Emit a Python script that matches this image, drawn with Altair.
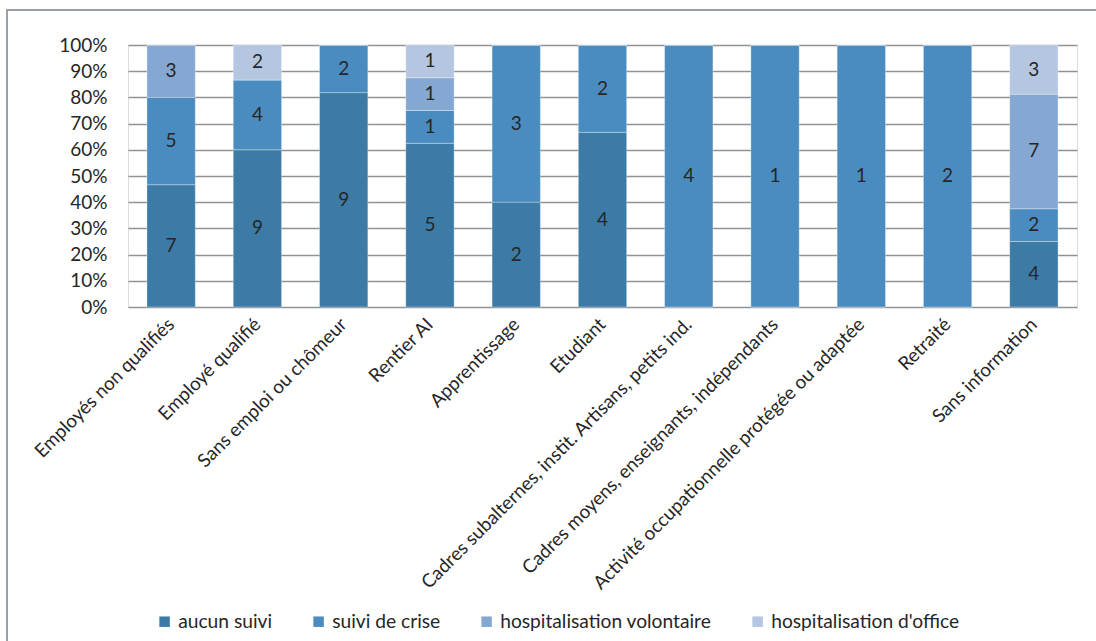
import altair as alt
import pandas as pd

categories = [
    "Employés non qualifiés", "Employé qualifié", "Sans emploi ou chômeur",
    "Rentier AI", "Apprentissage", "Etudiant",
    "Cadres subalternes, instit. Artisans, petits ind.",
    "Cadres moyens, enseignants, indépendants",
    "Activité occupationnelle protégée ou adaptée",
    "Retraité", "Sans information",
]
series = ["aucun suivi", "suivi de crise", "hospitalisation volontaire", "hospitalisation d'office"]
aucun_suivi = [7, 9, 9, 5, 2, 4, 0, 0, 0, 0, 4]
suivi_crise = [5, 4, 2, 1, 3, 2, 4, 1, 1, 2, 2]
hosp_volontaire = [3, 0, 0, 1, 0, 0, 0, 0, 0, 0, 7]
hosp_office = [0, 2, 0, 1, 0, 0, 0, 0, 0, 0, 3]
colors = ["#3d7ba7", "#4a8cbf", "#84a8d1", "#b5c6e1"]

rows = []
for si, (s, vals) in enumerate(zip(series, [aucun_suivi, suivi_crise, hosp_volontaire, hosp_office])):
    for c, v in zip(categories, vals):
        rows.append({"cat": c, "serie": s, "order": si, "count": v})
df = pd.DataFrame(rows)

FONT = "Lato"
TXT = "#262626"
FS = 19

base = alt.Chart(df).transform_stack(
    stack="count", groupby=["cat"], as_=["y0", "y1"], offset="normalize",
    sort=[alt.SortField("order", order="ascending")]
).transform_calculate(mid="(datum.y0 + datum.y1) / 2")

x_axis = alt.Axis(labelAngle=-45, labelAlign="right", labelBaseline="middle",
                  labelPadding=14, ticks=False, domain=False,
                  labelFont=FONT, labelFontSize=18.8, labelColor=TXT,
                  labelLimit=600, labelOverlap=False)
x_scale = alt.Scale(paddingInner=0.44, paddingOuter=0.22)
y_axis = alt.Axis(format=".0%", tickCount=10,
                  ticks=False, domain=False, grid=True, gridColor="#8e9396",
                  gridWidth=1.6, labelFont=FONT, labelFontSize=FS,
                  labelColor=TXT, labelPadding=21, labelOverlap=False)
y_scale = alt.Scale(domain=[0, 1], nice=False)

bars = base.mark_bar(stroke="#ffffff", strokeWidth=0.6, strokeOpacity=0.5).encode(
    x=alt.X("cat:N", sort=categories, title=None, scale=x_scale, axis=x_axis),
    y=alt.Y("y0:Q", title=None, scale=y_scale, axis=y_axis),
    y2="y1:Q",
    color=alt.Color("serie:N", sort=series,
                    scale=alt.Scale(domain=series, range=colors),
                    legend=alt.Legend(orient="none", direction="horizontal",
                                      legendX=27, legendY=567, title=None,
                                      symbolType="square", symbolSize=110,
                                      symbolStrokeWidth=0, labelFont=FONT,
                                      labelFontSize=19.2, labelColor=TXT,
                                      labelLimit=400,
                                      columnPadding=36, labelOffset=4)),
)

texts = base.transform_filter("datum.count > 0").mark_text(
    font=FONT, fontSize=FS, color=TXT, baseline="middle"
).encode(
    x=alt.X("cat:N", sort=categories, title=None, scale=x_scale, axis=x_axis),
    y=alt.Y("mid:Q", title=None, scale=y_scale, axis=y_axis),
    text="count:Q",
)

frame = alt.Chart(pd.DataFrame({"a": [0]})).mark_rect(
    fill=None, stroke="#9aa0a4", strokeWidth=2
).encode(x=alt.value(-121), x2=alt.value(1100), y=alt.value(-35), y2=alt.value(700))

chart = alt.layer(frame, bars, texts).properties(
    width=949, height=262,
    autosize=alt.AutoSizeParams(type="none"),
    padding={"left": 128, "top": 45, "right": 19, "bottom": 334},
).configure_view(stroke=None).configure(background="#ffffff")

chart.save("out.html", embed_options={"renderer": "svg", "actions": False})
